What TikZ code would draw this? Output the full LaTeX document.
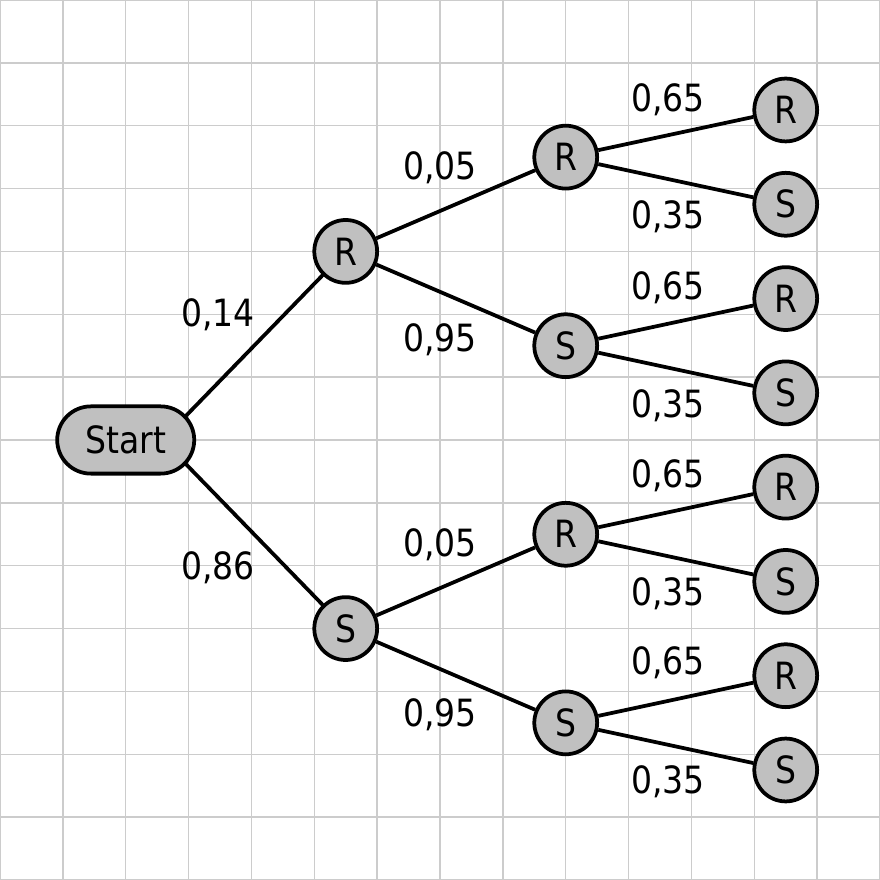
\documentclass[tikz,border=0pt]{standalone}
\usepackage{fontspec}
\setmainfont{DejaVu Sans}[FakeStretch=0.88]
\usetikzlibrary{shapes.misc, positioning, backgrounds}

\definecolor{nodegray}{RGB}{192,192,192}
\definecolor{gridgray}{RGB}{204,204,204}

\tikzset{
  state/.style={circle, draw, line width=1.7pt, fill=nodegray, minimum size=1cm, inner sep=0pt, font=\fontsize{17}{20}\selectfont},
  root/.style={rounded rectangle, draw, line width=1.7pt, fill=nodegray, minimum width=2.18cm, minimum height=1.07cm, inner sep=0pt, font=\fontsize{17}{20}\selectfont},
  prob/.style={inner sep=0pt, font=\fontsize{17}{20}\selectfont},
  branch/.style={line width=1.7pt}
}

\begin{document}
\begin{tikzpicture}
\useasboundingbox (0,0) rectangle (14,14);
\begin{scope}[on background layer]
\draw[gridgray, line width=0.6pt] (0,0) grid (14,14);
\end{scope}

\node[root] at (2,7) (start) {Start};
\coordinate (start-c) at ([xshift=-0.535cm]start.east);

\node[state] at (5.5,10) (r) {R};
\node[state] at (5.5,4) (s) {S};

\node[state] at (9,11.5) (rr) {R};
\node[state] at (9,8.5) (rs) {S};
\node[state] at (9,5.5) (sr) {R};
\node[state] at (9,2.5) (ss) {S};

\node[state] at (12.5,12.25) (rrr) {R};
\node[state] at (12.5,10.75) (rrs) {S};
\node[state] at (12.5,9.25) (rsr) {R};
\node[state] at (12.5,7.75) (rss) {S};
\node[state] at (12.5,6.25) (srr) {R};
\node[state] at (12.5,4.75) (srs) {S};
\node[state] at (12.5,3.25) (ssr) {R};
\node[state] at (12.5,1.75) (sss) {S};

\begin{scope}[on background layer]
\draw[branch] (start-c) -- (r.center);
\draw[branch] (start-c) -- (s.center);

\draw[branch] (r) -- (rr);
\draw[branch] (r) -- (rs);
\draw[branch] (s) -- (sr);
\draw[branch] (s) -- (ss);

\draw[branch] (rr) -- (rrr);
\draw[branch] (rr) -- (rrs);
\draw[branch] (rs) -- (rsr);
\draw[branch] (rs) -- (rss);
\draw[branch] (sr) -- (srr);
\draw[branch] (sr) -- (srs);
\draw[branch] (ss) -- (ssr);
\draw[branch] (ss) -- (sss);
\end{scope}

% probabilities
\node[prob] at (3.47,9.0) (p-r) {0,14};
\node[prob] at (3.47,4.96) (p-s) {0,86};

\node[prob] at (7.0,11.33) (p-rr) {0,05};
\node[prob] at (7.0,8.59) (p-rs) {0,95};
\node[prob] at (7.0,5.33) (p-sr) {0,05};
\node[prob] at (7.0,2.63) (p-ss) {0,95};

\node[prob] at (10.63,12.41) (p-rrr) {0,65};
\node[prob] at (10.63,10.55) (p-rrs) {0,35};
\node[prob] at (10.63,9.42) (p-rsr) {0,65};
\node[prob] at (10.63,7.54) (p-rss) {0,35};
\node[prob] at (10.63,6.43) (p-srr) {0,65};
\node[prob] at (10.63,4.55) (p-srs) {0,35};
\node[prob] at (10.63,3.45) (p-ssr) {0,65};
\node[prob] at (10.63,1.56) (p-sss) {0,35};
\end{tikzpicture}
\end{document}
